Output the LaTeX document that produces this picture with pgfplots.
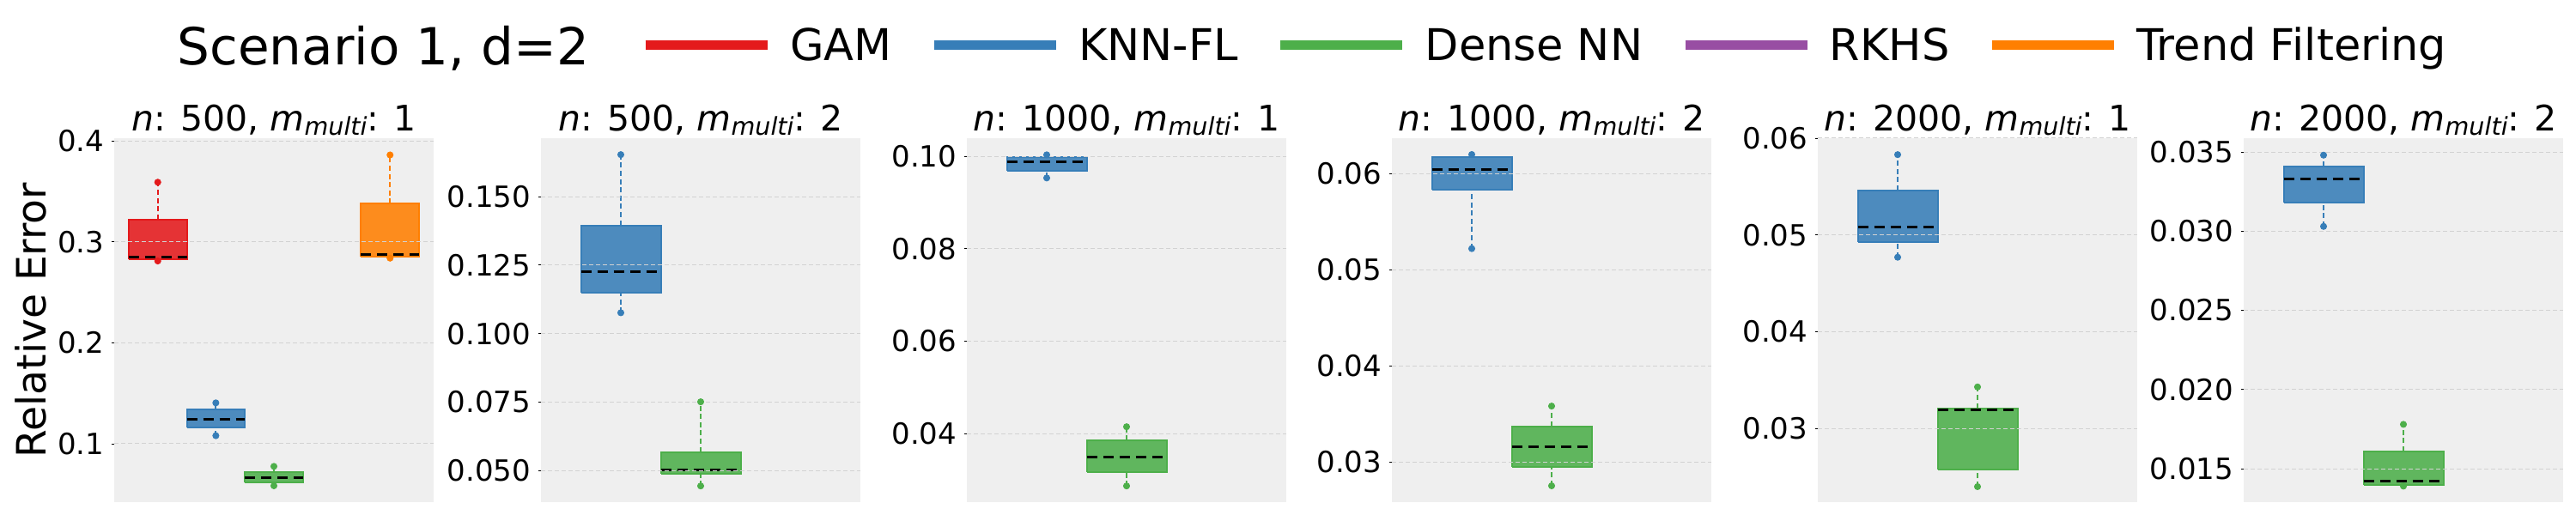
\documentclass[border=0pt]{standalone}
\usepackage{fontspec}
\setmainfont{DejaVu Sans}
\usepackage{pgfplots}
\pgfplotsset{compat=1.18}

\definecolor{gamc}{HTML}{E41A1C}
\definecolor{knnc}{HTML}{377EB8}
\definecolor{dnnc}{HTML}{4DAF4A}
\definecolor{rkhsc}{HTML}{984EA3}
\definecolor{tfc}{HTML}{FF7F00}
\definecolor{bggray}{HTML}{EFEFEF}
\definecolor{gridgray}{HTML}{D2D2D2}

\pgfplotsset{
  panel/.style={
    scale only axis, width=186pt, height=212pt, anchor=south west,
    axis background/.style={fill=bggray},
    axis line style={draw=none},
    xtick=\empty, scaled y ticks=false,
    ytick pos=left, tick align=outside, major tick length=1.75pt,
    ytick style={black, line width=0.45pt},
    ymajorgrids, grid style={gridgray, line width=0.5pt, dash pattern=on 2.5pt off 1.5pt},
    axis on top,
    yticklabel style={font=\fontsize{17}{17}\selectfont, inner sep=0pt, xshift=-4pt},
    every axis title/.style={at={(0.5,1)}, anchor=base, yshift=4.4pt,
      font=\fontsize{20.5}{22}\selectfont},
  },
  whisk/.style={line width=1pt, dash pattern=on 3pt off 1.8pt},
}

% subplot title
\newcommand{\ttl}[2]{\textit{n}: #1, \textit{m}\raisebox{-0.13em}{\fontsize{14.3}{14}\selectfont\textit{multi}}: #2}

% box: colour, position, lower whisker, q1, median, q3, upper whisker
\newcommand{\bx}[7]{%
  \pgfmathsetmacro{\xl}{#2-0.5}\pgfmathsetmacro{\xr}{#2+0.5}%
  \addplot[#1, whisk] coordinates {(#2,#3) (#2,#4)};
  \addplot[#1, whisk] coordinates {(#2,#6) (#2,#7)};
  \addplot[draw=#1, fill=#1, fill opacity=0.88, line width=1pt, line join=miter]
    coordinates {(\xl,#4) (\xr,#4) (\xr,#6) (\xl,#6) (\xl,#4)};
  \addplot[black, line width=1.5pt, dash pattern=on 6pt off 3.5pt] coordinates {(\xl,#5) (\xr,#5)};
  \addplot[only marks, mark=*, mark size=1.8pt, color=#1] coordinates {(#2,#3) (#2,#7)};
}

\newcommand{\legtxt}[1]{\raisebox{0pt}[0.729em][0pt]{#1}}

\begin{document}
\begin{tikzpicture}
\useasboundingbox (0,0) rectangle (1500pt,300pt);

\node[anchor=base west, inner sep=0pt, font=\fontsize{29.8}{32}\selectfont] at (103pt,262pt) {Scenario 1, d=2};

% n=500, m=1
\begin{axis}[panel, at={(66.5pt,7.5pt)},
  xmin=-0.75, xmax=4.75, ymin=0.0422, ymax=0.4026,
  ytick={0.1,0.2,0.3,0.4}, yticklabels={0.1,0.2,0.3,0.4},
  title={\ttl{500}{1}},
  ylabel={Relative Error},
  every axis y label/.style={at={(axis description cs:-0.215,0.5)}, rotate=90, anchor=base,
    font=\fontsize{23.6}{24}\selectfont},
  legend columns=5, legend cell align=left,
  legend image code/.code={\draw[#1, line width=5.35pt] (0pt,0pt) -- (71pt,0pt);},
  legend style={draw=none, fill=none, inner sep=0pt, at={(1.6478,1.2564)}, anchor=west,
    font=\fontsize{25.5}{28}\selectfont, nodes={inner sep=0pt, text depth=0pt},
    /tikz/every odd column/.append style={column sep=10.5pt},
    /tikz/every even column/.append style={column sep=22pt}},
]
\addlegendimage{gamc}\addlegendentry{\legtxt{GAM}}
\addlegendimage{knnc}\addlegendentry{\legtxt{KNN-FL}}
\addlegendimage{dnnc}\addlegendentry{\legtxt{Dense NN}}
\addlegendimage{rkhsc}\addlegendentry{\legtxt{RKHS}}
\addlegendimage{tfc}\addlegendentry{\legtxt{Trend Filtering}}
\bx{gamc}{0}{0.281}{0.283}{0.285}{0.322}{0.359}
\bx{knnc}{1}{0.108}{0.116}{0.1244}{0.134}{0.1405}
\bx{dnnc}{2}{0.0584}{0.0615}{0.066}{0.0722}{0.0776}
\bx{tfc}{4}{0.2838}{0.2853}{0.2875}{0.3377}{0.386}
\end{axis}

% n=500, m=2
\begin{axis}[panel, at={(315pt,7.5pt)},
  xmin=-1, xmax=3, ymin=0.0385, ymax=0.1713,
  ytick={0.05,0.075,0.1,0.125,0.15}, yticklabels={0.050,0.075,0.100,0.125,0.150},
  title={\ttl{500}{2}}]
\bx{knnc}{0}{0.1076}{0.1149}{0.1227}{0.1395}{0.1653}
\bx{dnnc}{1}{0.0444}{0.0489}{0.0504}{0.0568}{0.0751}
\end{axis}

% n=1000, m=1
\begin{axis}[panel, at={(563pt,7.5pt)},
  xmin=-1, xmax=3, ymin=0.0252, ymax=0.1039,
  ytick={0.04,0.06,0.08,0.1}, yticklabels={0.04,0.06,0.08,0.10},
  title={\ttl{1000}{1}}]
\bx{knnc}{0}{0.0953}{0.0969}{0.0988}{0.0998}{0.1003}
\bx{dnnc}{1}{0.0287}{0.0317}{0.035}{0.0385}{0.0415}
\end{axis}

% n=1000, m=2
\begin{axis}[panel, at={(810.5pt,7.5pt)},
  xmin=-1, xmax=3, ymin=0.0258, ymax=0.0637,
  ytick={0.03,0.04,0.05,0.06}, yticklabels={0.03,0.04,0.05,0.06},
  title={\ttl{1000}{2}}]
\bx{knnc}{0}{0.0522}{0.0583}{0.0604}{0.0617}{0.0620}
\bx{dnnc}{1}{0.0275}{0.0295}{0.0316}{0.0337}{0.0358}
\end{axis}

% n=2000, m=1
\begin{axis}[panel, at={(1058.5pt,7.5pt)},
  xmin=-1, xmax=3, ymin=0.0224, ymax=0.0600,
  ytick={0.03,0.04,0.05,0.06}, yticklabels={0.03,0.04,0.05,0.06},
  title={\ttl{2000}{1}}]
\bx{knnc}{0}{0.0477}{0.0493}{0.0508}{0.0546}{0.0583}
\bx{dnnc}{1}{0.0240}{0.0258}{0.0319}{0.0321}{0.0343}
\end{axis}

% n=2000, m=2
\begin{axis}[panel, at={(1306.5pt,7.5pt)},
  xmin=-1, xmax=3, ymin=0.01289, ymax=0.03587,
  ytick={0.015,0.02,0.025,0.03,0.035}, yticklabels={0.015,0.020,0.025,0.030,0.035},
  title={\ttl{2000}{2}}]
\bx{knnc}{0}{0.0303}{0.0318}{0.0333}{0.0341}{0.0348}
\bx{dnnc}{1}{0.0139}{0.0140}{0.0142}{0.0161}{0.0178}
\end{axis}
\end{tikzpicture}
\end{document}
